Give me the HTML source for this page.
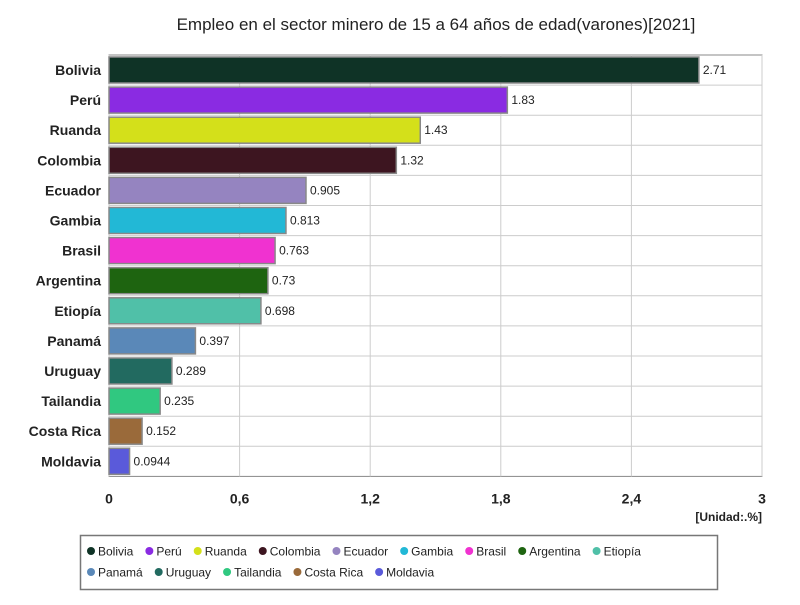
<!DOCTYPE html>
<html><head><meta charset="utf-8"><style>
body{margin:0;background:#fff;font-family:"Liberation Sans",sans-serif}
svg text{font-family:"Liberation Sans",sans-serif}
</style></head><body>
<svg width="800" height="600">
<text x="436" y="30" text-anchor="middle" font-size="17" fill="#222">Empleo en el sector minero de 15 a 64 años de edad(varones)[2021]</text>
<g id="grid"></g><g id="bars"></g><g id="labels"></g><g id="legend"></g>
<text x="762" y="521" text-anchor="end" font-size="12" font-weight="bold" fill="#222">[Unidad:.%]</text>
</svg>
<script>
const categories=["Bolivia","Perú","Ruanda","Colombia","Ecuador","Gambia","Brasil","Argentina","Etiopía","Panamá","Uruguay","Tailandia","Costa Rica","Moldavia"];
const values=[2.71,1.83,1.43,1.32,0.905,0.813,0.763,0.73,0.698,0.397,0.289,0.235,0.152,0.0944];
const valueLabels=["2.71","1.83","1.43","1.32","0.905","0.813","0.763","0.73","0.698","0.397","0.289","0.235","0.152","0.0944"];
const colors=["#0f3326","#8a2be2","#d4e01a","#3d1520","#9584c0","#22b8d6","#f032d0","#1e6410","#50c0a8","#5a88b8","#226a60","#30c880","#9a6a3a","#5a5ada"];
const ticks=[0,0.6,1.2,1.8,2.4,3];
const tickLabels=["0","0,6","1,2","1,8","2,4","3"];
const NS="http://www.w3.org/2000/svg";
const x0=109,x1=762,y0=55,pitch=30.1,xMax=3;
const X=v=>x0+(v/xMax)*(x1-x0);
function mk(t,a,p){const e=document.createElementNS(NS,t);for(const k in a)e.setAttribute(k,a[k]);p.appendChild(e);return e;}
const grid=document.getElementById('grid'),bars=document.getElementById('bars'),labs=document.getElementById('labels'),leg=document.getElementById('legend');
const yb=y0+pitch*categories.length;
mk('rect',{x:x0,y:y0,width:x1-x0,height:yb-y0,fill:'#fff',stroke:'#888'},grid);
ticks.forEach((t,i)=>{
 const l=mk('line',{x1:X(t),x2:X(t),y1:y0,y2:yb,stroke:'#ccc'},grid);
 
 
 const tx=mk('text',{x:X(t),y:yb+27,'text-anchor':'middle','font-size':14,'font-weight':'bold',fill:'#222'},grid);
 tx.textContent=tickLabels[i];
 
 
});
for(let i=1;i<categories.length;i++){mk('line',{x1:x0,x2:x1,y1:y0+pitch*i,y2:y0+pitch*i,stroke:'#ccc'},grid);}
categories.forEach((c,i)=>{
 const yt=y0+pitch*i+2;
 const r=mk('rect',{x:x0,y:yt,width:X(values[i])-x0,height:26,fill:colors[i],stroke:'#888','stroke-width':1.5},bars);
 
 
 const v=mk('text',{x:X(values[i])+4,y:yt+17,'font-size':12,fill:'#222'},labs);
 v.textContent=valueLabels[i];
 
 
 const n=mk('text',{x:101,y:yt+18,'text-anchor':'end','font-size':14,'font-weight':'bold',fill:'#222'},labs);
 n.textContent=c;
 
 
});
const box=mk('rect',{x:80.5,y:535.5,width:637,height:54,fill:'#fff',stroke:'#777','stroke-width':1.5},leg);


let lx=91,ly=551;
categories.forEach((c,i)=>{
 const w=c.length*6.5+24;
 if(lx+w>715){lx=91;ly+=21;}
 const g=mk('g',{},leg);
 
 
 mk('circle',{cx:lx,cy:ly,r:4,fill:colors[i]},g);
 const t=mk('text',{x:lx+7,y:ly+4.5,'font-size':12,fill:'#222'},g);
 t.textContent=c;
 lx+=t.getComputedTextLength()+23;
});
</script>
</body></html>
